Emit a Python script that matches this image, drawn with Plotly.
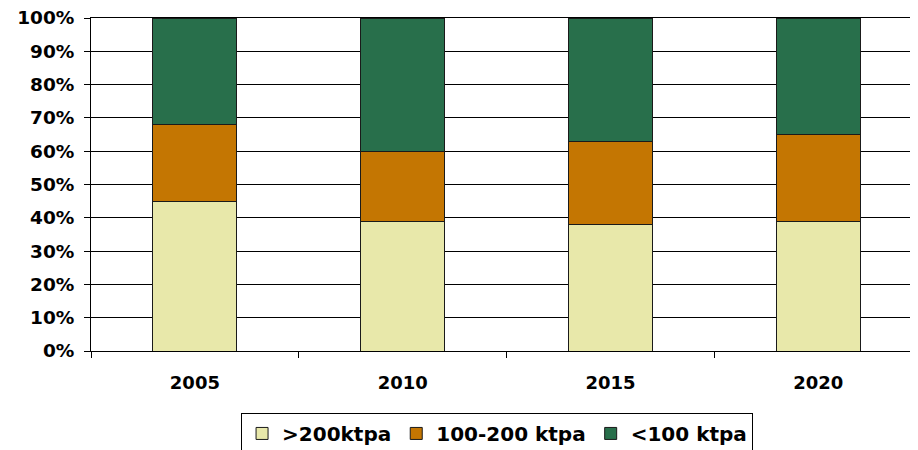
import plotly.graph_objects as go

years = ["2005", "2010", "2015", "2020"]
large = [45, 39, 38, 39]        # >200ktpa
medium = [23, 21, 25, 26]       # 100-200 ktpa
small = [32, 40, 37, 35]        # <100 ktpa
names = [">200ktpa", "100-200 ktpa", "<100 ktpa"]
colors = ["#E8E8AA", "#C47602", "#286F4B"]
y_ticks = list(range(0, 101, 10))
y_labels = [f"{v}%" for v in y_ticks]

FONT = "DejaVu Sans, Verdana, sans-serif"

fig = go.Figure()
for vals, name, col in zip([large, medium, small], names, colors):
    fig.add_trace(go.Bar(
        x=years, y=vals, name=name,
        marker=dict(color=col, line=dict(color="#1a1a1a", width=1)),
    ))

fig.update_layout(
    barmode="stack",
    bargap=0.596,
    width=910, height=442,
    margin=dict(l=83, r=0, t=10, b=99, autoexpand=False),
    paper_bgcolor="white", plot_bgcolor="white",
    font=dict(family=FONT, size=18, color="black", weight="bold"),
    showlegend=True,
    legend=dict(
        orientation="h", x=0.491, xanchor="center", y=-0.186, yanchor="top",
        bordercolor="black", borderwidth=1, bgcolor="white",
        font=dict(family=FONT, size=20, color="black", weight="bold"),
        traceorder="normal", itemwidth=30, tracegroupgap=0,
    ),
    xaxis=dict(
        type="category", tickson="boundaries", ticks="outside", ticklen=6,
        tickcolor="black", showline=True, linecolor="black", linewidth=1,
        mirror=True,
        showgrid=False, range=[-0.5, 3.48],
        tickfont=dict(family=FONT, size=18, color="black", weight="bold"),
        ticklabelstandoff=15,
    ),
    yaxis=dict(
        range=[0, 100], tickvals=y_ticks, ticktext=y_labels,
        ticks="outside", ticklen=6, tickcolor="black",
        showline=True, linecolor="black", linewidth=1,
        showgrid=True, gridcolor="black", gridwidth=1,
        zeroline=False, ticklabelstandoff=6, ticklabeloverflow="allow",
        tickfont=dict(family=FONT, size=18.5, color="black", weight="bold"),
    ),
)

fig.write_html("out.html")
